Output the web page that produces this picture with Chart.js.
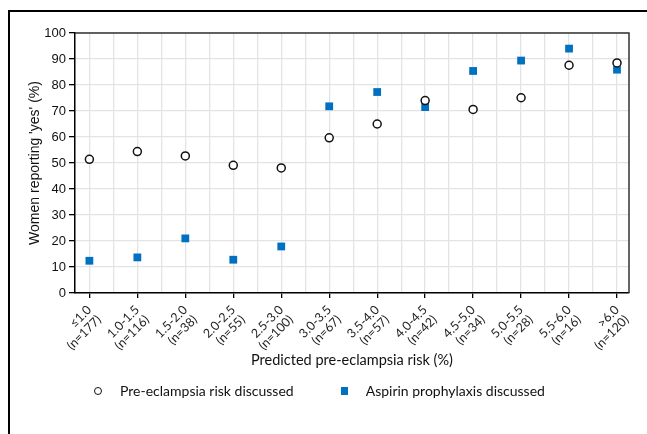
<!DOCTYPE html>
<html>
<head>
<meta charset="utf-8">
<script src="https://cdn.jsdelivr.net/npm/chart.js@4.4.0/dist/chart.umd.min.js"></script>
<style>
    html, body { margin: 0; padding: 0; background: #fff; overflow: hidden; }
    #wrap { position: relative; width: 647px; height: 434px; }
    #frame { position: absolute; left: 8px; top: 10px; width: 700px; height: 500px;
             border-left: 2px solid #000; border-top: 2px solid #000; }
    #chart { position: absolute; left: 0; top: 0; }
    #legend { position: absolute; left: 94px; top: 382px; display: flex; align-items: center;
              font-family: Lato, 'Open Sans', sans-serif; font-size: 14px; color: #111; }
    .item { display: flex; align-items: center; }
    .item + .item { margin-left: 47px; }
    .mark { display: inline-block; margin-right: 18px; }
    .mark.circle { width: 6px; height: 6px; border: 1.3px solid #111; border-radius: 50%; }
    .mark.square { width: 7px; height: 8px; background: #0070C0; }
</style>
</head>
<body>
<div id="wrap">
    <div id="frame"></div>
    <canvas id="chart" width="647" height="434"></canvas>
    <div id="legend"></div>
</div>
<script>
// risk groups (x axis)
const riskGroups = ['≤1.0', '1.0-1.5', '1.5-2.0', '2.0-2.5', '2.5-3.0', '3.0-3.5',
                    '3.5-4.0', '4.0-4.5', '4.5-5.0', '5.0-5.5', '5.5-6.0', '>6.0'];
const groupSizes = [177, 116, 38, 55, 100, 67, 57, 42, 34, 28, 16, 120];

// % of women reporting 'yes'
const riskDiscussed = [51.4, 54.4, 52.7, 49.1, 48.1, 59.7, 65.0, 74.0, 70.6, 75.1, 87.6, 88.5];
const aspirinDiscussed = [12.4, 13.7, 21.0, 12.8, 17.9, 71.8, 77.3, 71.5, 85.4, 89.4, 94.0, 85.9];

const seriesNames = ['Pre-eclampsia risk discussed', 'Aspirin prophylaxis discussed'];
const yTicks = [0, 10, 20, 30, 40, 50, 60, 70, 80, 90, 100];

function toPoints(values) {
    return values.map((v, i) => ({ x: i + 1, y: v }));
}

// grey box round the plot area
const plotFrame = {
    id: 'plotFrame',
    afterDraw(chart) {
        const { ctx, chartArea: a } = chart;
        ctx.save();
        ctx.strokeStyle = '#333';
        ctx.lineWidth = 1.5;
        ctx.beginPath();
        ctx.moveTo(a.left, a.top);
        ctx.lineTo(a.right, a.top);
        ctx.lineTo(a.right, a.bottom);
        ctx.stroke();
        ctx.restore();
    }
};

const isMajorX = v => Number.isInteger(v);
const isMajorY = v => v % 10 === 0;

const chart = new Chart(document.getElementById('chart'), {
    type: 'scatter',
    data: {
        datasets: [
            {
                label: seriesNames[0],
                data: toPoints(riskDiscussed),
                pointStyle: 'circle',
                pointRadius: 4,
                pointBorderWidth: 1.5,
                borderColor: '#111',
                backgroundColor: '#fff'
            },
            {
                label: seriesNames[1],
                data: toPoints(aspirinDiscussed),
                pointStyle: 'rect',
                pointRadius: 5.5,
                pointBorderWidth: 0,
                borderColor: '#0070C0',
                backgroundColor: '#0070C0'
            }
        ]
    },
    options: {
        responsive: false,
        animation: false,
        layout: { padding: { top: 33, right: 18, left: 20, bottom: 65 } },
        plugins: {
            legend: { display: false },
            tooltip: { enabled: false }
        },
        scales: {
            x: {
                type: 'linear',
                min: 0.7,
                max: 12.25,
                afterBuildTicks: scale => {
                    const t = [];
                    for (let v = 1; v <= riskGroups.length; v += 0.5) t.push({ value: v });
                    scale.ticks = t;
                },
                afterFit: scale => { scale.height = 76; },
                grid: {
                    color: '#e3e3e3',
                    lineWidth: 1.3,
                    tickLength: 5,
                    tickWidth: 1.3,
                    tickColor: ctx => isMajorX(ctx.tick.value) ? '#000' : 'rgba(0,0,0,0)'
                },
                border: { color: '#000', width: 1.5 },
                ticks: {
                    autoSkip: false,
                    minRotation: 45,
                    maxRotation: 45,
                    padding: 5,
                    color: '#222',
                    font: { family: 'Lato, "Open Sans", sans-serif', size: 12.5, lineHeight: 1.1 },
                    callback: v => isMajorX(v) ? [riskGroups[v - 1], '(n=' + groupSizes[v - 1] + ')'] : ''
                },
                title: {
                    display: true,
                    text: 'Predicted pre-eclampsia risk (%)',
                    color: '#111',
                    padding: 0,
                    font: { family: 'Lato, "Open Sans", sans-serif', size: 14.5 }
                }
            },
            y: {
                min: 0,
                max: 100,
                afterBuildTicks: scale => {
                    const t = [];
                    for (let v = 0; v <= 100; v += 5) t.push({ value: v });
                    scale.ticks = t;
                },
                afterFit: scale => { scale.width = 55; },
                grid: {
                    color: '#e3e3e3',
                    lineWidth: 1.3,
                    tickLength: 6,
                    tickWidth: 1.3,
                    tickColor: ctx => isMajorY(ctx.tick.value) ? '#000' : 'rgba(0,0,0,0)'
                },
                border: { color: '#000', width: 1.5 },
                ticks: {
                    padding: 3,
                    color: '#111',
                    font: { family: '"Liberation Sans", Arial, sans-serif', size: 13 },
                    callback: v => yTicks.includes(v) ? v : ''
                },
                title: {
                    display: true,
                    text: "Women reporting 'yes' (%)",
                    color: '#111',
                    padding: { top: 7 },
                    font: { family: '"Liberation Sans", Arial, sans-serif', size: 14 }
                }
            }
        }
    },
    plugins: [plotFrame]
});

// legend under the chart, built from the datasets
const legend = document.getElementById('legend');
chart.data.datasets.forEach(ds => {
    const item = document.createElement('div');
    item.className = 'item';
    const mark = document.createElement('span');
    mark.className = 'mark ' + (ds.pointStyle === 'rect' ? 'square' : 'circle');
    const txt = document.createElement('span');
    txt.textContent = ds.label;
    item.appendChild(mark);
    item.appendChild(txt);
    legend.appendChild(item);
});
</script>
</body>
</html>
